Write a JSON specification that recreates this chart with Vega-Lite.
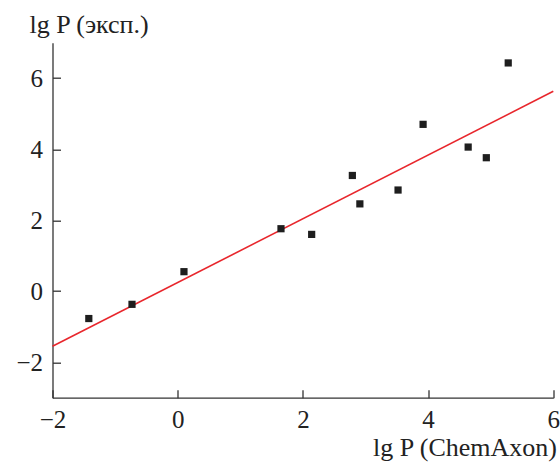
{
  "$schema": "https://vega.github.io/schema/vega-lite/v6.json",
  "width": 500.8,
  "height": 355,
  "autosize": {"type": "none"},
  "padding": {"left": 52.5, "top": 42.7, "right": 6.7, "bottom": 64.3},
  "background": "white",
  "config": {
    "view": {"stroke": null},
    "font": "Liberation Serif",
    "axis": {
      "grid": false,
      "domainColor": "#333333",
      "domainWidth": 1.3,
      "tickColor": "#333333",
      "tickWidth": 1.3,
      "tickSize": -8,
      "labelFont": "Liberation Serif",
      "labelFontSize": 25,
      "labelColor": "#222222",
      "titleFont": "Liberation Serif",
      "titleFontSize": 26,
      "titleFontWeight": "normal",
      "titleColor": "#222222"
    }
  },
  "datasets": {
    "measured": [
      {"calc": -1.42, "exp": -0.77},
      {"calc": -0.73, "exp": -0.37},
      {"calc": 0.10, "exp": 0.55},
      {"calc": 1.65, "exp": 1.76},
      {"calc": 2.14, "exp": 1.60},
      {"calc": 2.79, "exp": 3.26},
      {"calc": 2.91, "exp": 2.46},
      {"calc": 3.52, "exp": 2.85},
      {"calc": 3.92, "exp": 4.70},
      {"calc": 4.64, "exp": 4.06},
      {"calc": 4.93, "exp": 3.76},
      {"calc": 5.28, "exp": 6.43}
    ],
    "fit": [
      {"calc": -2, "exp": -1.55},
      {"calc": 6, "exp": 5.63}
    ]
  },
  "layer": [
    {
      "data": {"name": "fit"},
      "mark": {"type": "line", "color": "#e8262c", "strokeWidth": 1.6},
      "encoding": {
        "x": {"field": "calc", "type": "quantitative"},
        "y": {"field": "exp", "type": "quantitative"}
      }
    },
    {
      "data": {"name": "measured"},
      "mark": {"type": "point", "shape": "square", "filled": true, "size": 52, "color": "#1e1e1e", "opacity": 1},
      "encoding": {
        "x": {
          "field": "calc",
          "type": "quantitative",
          "scale": {"domain": [-2, 6], "nice": false, "zero": false},
          "axis": {
            "values": [-2, 0, 2, 4, 6],
            "format": "d",
            "labelPadding": 18,
            "labelBaseline": "top",
            "labelFlush": false,
            "title": "lg P (ChemAxon)",
            "titleAlign": "right",
            "titleAnchor": "end",
            "titleX": 504,
            "titleY": 58,
            "titleBaseline": "alphabetic"
          }
        },
        "y": {
          "field": "exp",
          "type": "quantitative",
          "scale": {"domain": [-3, 7], "nice": false, "zero": false},
          "axis": {
            "values": [-2, 0, 2, 4, 6],
            "format": "d",
            "labelPadding": 18,
            "labelFlush": false,
            "title": "lg P (эксп.)",
            "titleAngle": 0,
            "titleAlign": "left",
            "titleAnchor": "start",
            "titleX": -23.5,
            "titleY": -10,
            "titleBaseline": "alphabetic"
          }
        }
      }
    }
  ]
}
